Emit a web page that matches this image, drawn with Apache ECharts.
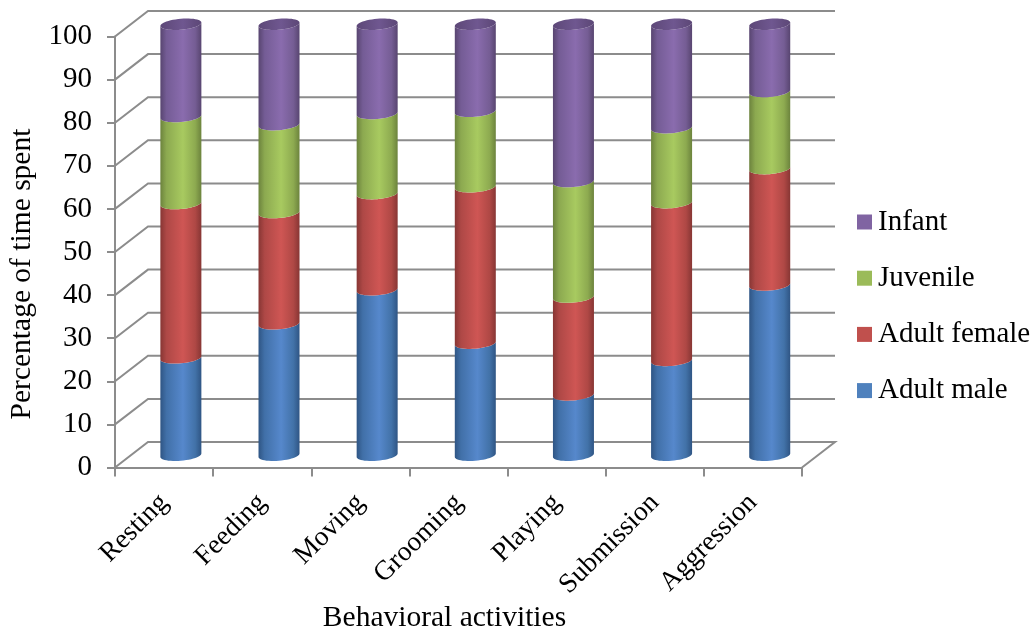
<!DOCTYPE html>
<html>
<head>
<meta charset="utf-8">
<style>html,body{margin:0;padding:0;background:#fff}#chart{width:1035px;height:627px}</style>
<script src="https://cdn.jsdelivr.net/npm/echarts@6/dist/echarts.min.js"></script>
</head>
<body>
<div id="chart"></div>
<script>
const categories = ['Resting', 'Feeding', 'Moving', 'Grooming', 'Playing', 'Submission', 'Aggression'];
const yTicks = [0, 10, 20, 30, 40, 50, 60, 70, 80, 90, 100];
const adultMale = [22.6, 30.5, 38.4, 26.0, 14.0, 22.0, 39.5];
const adultFemale = [35.8, 25.8, 22.3, 36.3, 22.7, 36.6, 27.0];
const juvenile = [20.2, 20.4, 18.6, 17.5, 26.8, 17.4, 17.9];
const infant = [21.4, 23.3, 20.7, 20.2, 36.5, 24.0, 15.6];

const FONT = '"Liberation Serif", serif';
const DEPTH_X = 33, DEPTH_Y = 25.5;    // offset of the back wall from the front plane
const BAR_DX = 16.8, BAR_DY = 12.25;   // bars stand midway between front plane and wall
const BAR_W = 41, RY = 5.5, TILT = 1.7;
const RULE = '#8c8c8c';

// Stacks the segment values into [category, base, top] rows.
function stackRows(layers) {
  const totals = categories.map(() => 0);
  return layers.map(vals => vals.map((v, i) => {
    const row = [i, totals[i], totals[i] + v];
    totals[i] += v;
    return row;
  }));
}
const rows = stackRows([adultMale, adultFemale, juvenile, infant]);

function shade(stops) {
  return {
    type: 'linear', x: 0, y: 0, x2: 1, y2: 0,
    colorStops: stops.map((c, i) => ({ offset: [0, 0.15, 0.55, 0.85, 1][i], color: c }))
  };
}

// Front half of the tilted ellipse, left to right or right to left.
function arc(cx, cy, sign, reverse) {
  const pts = [];
  for (let k = 0; k <= 24; k++) {
    const t = Math.PI * (reverse ? k : 24 - k) / 24;
    pts.push([cx + BAR_W / 2 * Math.cos(t), cy + sign * RY * Math.sin(t) - TILT * Math.cos(t)]);
  }
  return pts;
}

function cylinder(stops, capStops, isTop) {
  return function (params, api) {
    const lo = api.coord([api.value(0), api.value(1)]);
    const hi = api.coord([api.value(0), api.value(2)]);
    const cx = lo[0] + BAR_DX, yLo = lo[1] - BAR_DY, yHi = hi[1] - BAR_DY;
    const body = arc(cx, yLo, 1, false).concat(arc(cx, yHi, 1, true));
    const children = [{
      type: 'polygon',
      shape: { points: body },
      style: { fill: shade(stops) }
    }];
    if (isTop) {
      const cap = arc(cx, yHi, 1, false).concat(arc(cx, yHi, -1, true));
      children.push({
        type: 'polygon',
        shape: { points: cap },
        style: { fill: shade(capStops) }
      });
    }
    return { type: 'group', children };
  };
}

// Floor and back-wall rules: one bent line per tick on the value axis.
function wallLine(params, api) {
  const y = api.coord([0, api.value(0)])[1];
  const g = params.coordSys;
  const line = [[g.x, y], [g.x + DEPTH_X, y - DEPTH_Y], [g.x + g.width + DEPTH_X, y - DEPTH_Y]];
  if (api.value(0) === 0) line.push([g.x + g.width, y]);
  return {
    type: 'polyline',
    shape: { points: line },
    style: { fill: null, stroke: RULE, lineWidth: 2 }
  };
}

function barSeries(name, flat, data, stops, capStops, isTop) {
  return {
    name, type: 'custom', data, clip: false, z: 3,
    encode: { x: 0, y: [1, 2] },
    itemStyle: { color: flat },
    renderItem: cylinder(stops, capStops, isTop)
  };
}

const chart = echarts.init(document.getElementById('chart'));
chart.setOption({
  animation: false,
  backgroundColor: '#fff',
  textStyle: { fontFamily: FONT },
  grid: { left: 115, top: 36.5, width: 687, height: 431, outerBoundsMode: 'none' },
  legend: {
    orient: 'vertical', left: 852, top: 202.5, itemWidth: 15, itemHeight: 15, itemGap: 27.2,
    icon: 'rect',
    textStyle: { fontFamily: FONT, fontSize: 29, color: '#000', padding: [0, 0, 0, 1] },
    data: ['Infant', 'Juvenile', 'Adult female', 'Adult male']
  },
  xAxis: {
    type: 'category', data: categories,
    name: 'Behavioral activities', nameLocation: 'middle', nameGap: 136, nameMoveOverlap: false,
    nameTextStyle: { fontFamily: FONT, fontSize: 29.5, color: '#000', padding: [0, 28, 0, 0] },
    axisLine: { lineStyle: { color: RULE, width: 2 } },
    axisTick: { show: true, alignWithLabel: false, length: 9, lineStyle: { color: RULE, width: 2 } },
    axisLabel: { interval: 0, rotate: 45, margin: 31, fontFamily: FONT, fontSize: 27.5, color: '#000' }
  },
  yAxis: {
    type: 'value', min: 0, max: 100, interval: 10,
    name: 'Percentage of time spent', nameLocation: 'middle', nameGap: 76, nameRotate: 90,
    nameTextStyle: { fontFamily: FONT, fontSize: 29.5, color: '#000', padding: [0, 44, 0, 0] },
    splitLine: { show: false },
    axisLine: { show: true, lineStyle: { color: RULE, width: 2 } },
    axisTick: { show: true, length: 8, lineStyle: { color: RULE, width: 2 } },
    axisLabel: { margin: 23, fontFamily: FONT, fontSize: 29, color: '#000' }
  },
  series: [
    {
      type: 'custom', data: yTicks.map(v => [v]), clip: false, z: 1, silent: true,
      encode: { y: 0 }, renderItem: wallLine
    },
    barSeries('Adult male', '#4f81bd', rows[0], ['#2f5584', '#4170a8', '#5688cc', '#4272a8', '#2f5584']),
    barSeries('Adult female', '#c0504d', rows[1], ['#873634', '#ae4846', '#cf5654', '#af4845', '#873634']),
    barSeries('Juvenile', '#9bbb59', rows[2], ['#6c833d', '#8ca950', '#a8ca60', '#8daa50', '#6c833d']),
    barSeries('Infant', '#8064a2', rows[3], ['#584570', '#745c95', '#8a6cae', '#755d94', '#584570'],
      ['#5d4878', '#624c7e', '#6f5790', '#624c7e', '#5d4878'], true)
  ]
});
</script>
</body>
</html>
